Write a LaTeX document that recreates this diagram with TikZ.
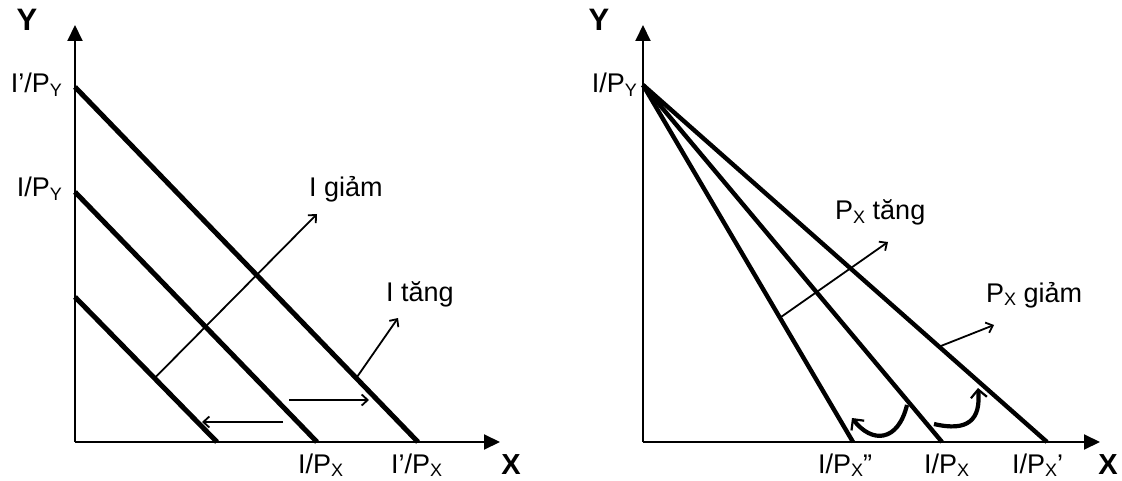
\documentclass[tikz,border=0pt]{standalone}
\usepackage{fontspec}
\setmainfont{Liberation Sans}
\usetikzlibrary{arrows.meta,calc}
\newcommand{\sbx}[1]{\raisebox{-3.5pt}{\fontsize{18}{18}\selectfont #1}}
\begin{document}
\begin{tikzpicture}[x=1pt,y=-1pt,
  lbl/.style={inner sep=0pt,font=\fontsize{27}{27}\selectfont},
  axlbl/.style={inner sep=0pt,font=\fontsize{31}{31}\selectfont\bfseries},
  axlblx/.style={inner sep=0pt,font=\fontsize{29}{29}\selectfont\bfseries},
  axisline/.style={line width=2pt,-{Triangle[length=16pt,width=15pt]}},
  budgetL/.style={line width=5pt},
  budgetR/.style={line width=4.4pt},
  thinarrow/.style={line width=1.8pt,-{Straight Barb[length=6pt,width=11pt]}},
  curvearrow/.style={line width=4.2pt,-{Straight Barb[length=8pt,width=16pt,line width=2.2pt]}}
]
\useasboundingbox (0,0) rectangle (1122,481);

% ---------- Left panel ----------
\coordinate (LO) at (75,442);
\coordinate (LYtop) at (75,25);
\coordinate (LXend) at (500,442);
\draw[axisline] (LO) -- (LYtop);
\draw[axisline] (LO) -- (LXend);

\coordinate (Oa) at (75,87);   \coordinate (Ob) at (418,442);
\coordinate (Ma) at (75,192);  \coordinate (Mb) at (317,442);
\coordinate (Na) at (75,297);  \coordinate (Nb) at (217,442);
\draw[budgetL] (Oa) -- (Ob);
\draw[budgetL] (Ma) -- (Mb);
\draw[budgetL] (Na) -- (Nb);

\coordinate (giamS) at ($(Na)!0.56!(Nb)$);
\coordinate (giamT) at (317,214);
\draw[thinarrow] (giamS) -- (giamT);

\coordinate (tangS) at ($(Oa)!0.82!(Ob)$);
\coordinate (tangT) at (398,318);
\draw[thinarrow] (tangS) -- (tangT);

\coordinate (hrS) at (289,400); \coordinate (hrT) at (369,400);
\coordinate (hlS) at (283,422); \coordinate (hlT) at (202,422);
\draw[thinarrow] (hrS) -- (hrT);
\draw[thinarrow] (hlS) -- (hlT);

\node[axlbl,anchor=base] (LY) at (27,31) {Y};
\node[axlblx,anchor=base] (LX) at (511,474) {X};
\node[lbl,anchor=base east] (LIpy2) at (62,93) {I’/P\sbx{Y}};
\node[lbl,anchor=base east] (LIpy) at (62,197) {I/P\sbx{Y}};
\node[lbl,anchor=base west] (LIpx) at (298,473) {I/P\sbx{X}};
\node[lbl,anchor=base west] (LIpx2) at (391,473) {I’/P\sbx{X}};
\node[lbl,anchor=base west] (Lgiam) at (309,197) {I giảm};
\node[lbl,anchor=base west] (Ltang) at (386,301) {I tăng};

% ---------- Right panel ----------
\coordinate (RO) at (643,442);
\coordinate (RYtop) at (643,25);
\coordinate (RXend) at (1100,442);
\draw[axisline] (RO) -- (RYtop);
\draw[axisline] (RO) -- (RXend);

\coordinate (Apex) at (643,85);
\coordinate (Rin) at (853,442);
\coordinate (Rmid) at (942,442);
\coordinate (Rout) at (1047,442);
\draw[budgetR] (Apex) -- (Rin);
\draw[budgetR] (Apex) -- (Rmid);
\draw[budgetR] (Apex) -- (Rout);

\coordinate (ptS) at ($(Apex)!0.652!(Rin)$);
\coordinate (ptT) at (888,242);
\draw[thinarrow] (ptS) -- (ptT);

\coordinate (pgS) at ($(Apex)!0.733!(Rout)$);
\coordinate (pgT) at (994,325);
\draw[thinarrow] (pgS) -- (pgT);

\coordinate (c1S) at (907,405); \coordinate (c1T) at (852,418);
\draw[curvearrow] (c1S) .. controls (898,442) and (872,444) .. (c1T);
\coordinate (c2S) at (934,424); \coordinate (c2T) at (978,388);
\draw[curvearrow] (c2S) .. controls (968,432) and (981,420) .. (c2T);

\node[axlbl,anchor=base] (RY) at (599,31) {Y};
\node[axlblx,anchor=base] (RX) at (1108,474) {X};
\node[lbl,anchor=base east] (RIpy) at (637,93) {I/P\sbx{Y}};
\node[lbl,anchor=base west] (RIpx2) at (818,473) {I/P\sbx{X}”};
\node[lbl,anchor=base west] (RIpx) at (924,473) {I/P\sbx{X}};
\node[lbl,anchor=base west] (RIpx1) at (1012,473) {I/P\sbx{X}’};
\node[lbl,anchor=base west] (Rtang) at (835,220) {P\sbx{X} tăng};
\node[lbl,anchor=base west] (Rgiam) at (986,302) {P\sbx{X} giảm};
\end{tikzpicture}
\end{document}
